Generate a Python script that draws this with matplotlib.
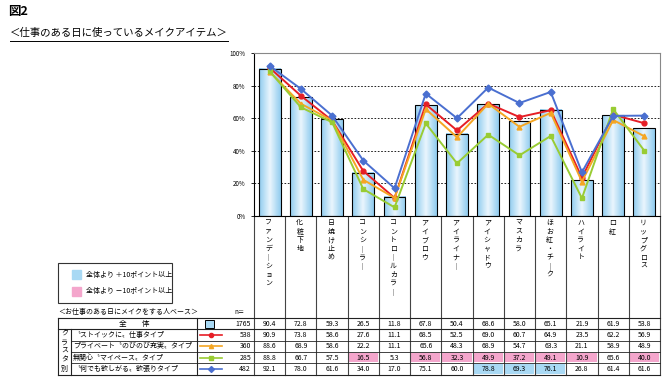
import numpy as np
import matplotlib.pyplot as plt
from matplotlib.colors import LinearSegmentedColormap
from matplotlib.patches import Rectangle

plt.rcParams['font.family'] = ['Noto Sans CJK JP', 'DejaVu Sans']

# data
items = ['ファンデーション', '化粧下地', '日焼け止め', 'コンシーラー', 'コントロールカラー',
         'アイブロウ', 'アイライナー', 'アイシャドウ', 'マスカラ', 'ほお紅・チーク',
         'ハイライト', '口紅', 'リップグロス']
total_n = 1765
total = [90.4, 72.8, 59.3, 26.5, 11.8, 67.8, 50.4, 68.6, 58.0, 65.1, 21.9, 61.9, 53.8]
groups = ['〝ストイックに〟仕事タイプ', 'プライベート〝のびのび充実〟タイプ',
          '無関心〝マイペース〟タイプ', '〝何でも欲しがる〟欲張りタイプ']
group_n = [538, 360, 285, 482]
stoic = [90.9, 73.8, 58.6, 27.6, 11.1, 68.5, 52.5, 69.0, 60.7, 64.9, 23.5, 62.2, 56.9]
private = [88.6, 68.9, 58.6, 22.2, 11.1, 65.6, 48.3, 68.9, 54.7, 63.3, 21.1, 58.9, 48.9]
mypace = [88.8, 66.7, 57.5, 16.5, 5.3, 56.8, 32.3, 49.9, 37.2, 49.1, 10.9, 65.6, 40.0]
greedy = [92.1, 78.0, 61.6, 34.0, 17.0, 75.1, 60.0, 78.8, 69.3, 76.1, 26.8, 61.4, 61.6]
group_vals = [stoic, private, mypace, greedy]
group_colors = ['#e61e26', '#f5a623', '#99cc33', '#4a6fd0']
group_markers = ['o', '^', 's', 'D']
up_color = '#a9d9f4'
down_color = '#f4a6cc'

W, H = 671, 384
fig = plt.figure(figsize=(W / 100, H / 100), dpi=100)

# pixel layout
PL, PR, PT, PB = 254, 660, 53, 216
colw = (PR - PL) / len(items)
TT, rh = 318, 11.3
TB = TT + 5 * rh

lay = fig.add_axes([0, 0, 1, 1])
lay.set_xlim(0, W)
lay.set_ylim(H, 0)
lay.axis('off')

ax = fig.add_axes([PL / W, 1 - PB / H, (PR - PL) / W, (PB - PT) / H])
x = np.arange(len(items))
cmap = LinearSegmentedColormap.from_list('bar', ['#8fcbef', '#eaf6fd', '#8fcbef'])
grad = np.linspace(0, 1, 64).reshape(1, -1)
bars = ax.bar(x, total, width=0.7, facecolor='none', edgecolor='black', lw=0.8, zorder=3)
for b in bars:
    ax.imshow(grad, cmap=cmap, aspect='auto', zorder=2,
              extent=[b.get_x(), b.get_x() + b.get_width(), 0, b.get_height()])

for vals, c, m in zip(group_vals, group_colors, group_markers):
    ax.plot(x, vals, color=c, marker=m, ms=3.5, lw=1.4, zorder=4)

ax.set_xlim(-0.5, len(items) - 0.5)
ax.set_ylim(0, 100)
ax.set_yticks(range(0, 101, 20))
ax.set_yticklabels([f'{v}%' for v in range(0, 101, 20)], fontsize=4.5)
ax.set_xticks([])
ax.tick_params(axis='y', length=2, width=0.6, pad=4)
for v in range(20, 100, 20):
    ax.axhline(v, color='black', lw=0.6, ls=(0, (2, 2)), zorder=1)
for s in ['top', 'right']:
    ax.spines[s].set_color('#888888')
    ax.spines[s].set_linewidth(0.8)
for s in ['left', 'bottom']:
    ax.spines[s].set_color('black')
    ax.spines[s].set_linewidth(0.8)

# title
lay.text(8, 12, '図2', fontsize=9, fontweight='bold', va='center')
lay.text(10, 33, '＜仕事のある日に使っているメイクアイテム＞', fontsize=7.5, va='center')
lay.plot([10, 228], [41, 41], color='black', lw=0.7)

# category labels (vertical)
for i, name in enumerate(items):
    cx = PL + (i + 0.5) * colw - 1
    for k, ch in enumerate(name):
        ch = '｜' if ch == 'ー' else ch
        lay.text(cx, 223 + k * 8.6, ch, ha='center', va='center', fontsize=5)

# highlight legend
lay.add_patch(Rectangle((58, 263), 114, 40, fill=False, edgecolor='#333333', lw=0.8))
lay.add_patch(Rectangle((72, 270), 9, 9, color=up_color))
lay.add_patch(Rectangle((72, 287), 9, 9, color=down_color))
lay.text(86, 274.5, '全体より ＋10ポイント以上', fontsize=5, va='center')
lay.text(86, 291.5, '全体より －10ポイント以上', fontsize=5, va='center')

lay.text(58, 312, '＜お仕事のある日にメイクをする人ベース＞', fontsize=5, va='center')
lay.text(234, 312, 'n＝', fontsize=4.5, va='center')

# highlighted cells
for r, vals in enumerate(group_vals):
    y0 = TT + (r + 1) * rh
    for j, v in enumerate(vals):
        d = v - total[j]
        if abs(d) >= 10:
            lay.add_patch(Rectangle((PL + j * colw + 1, y0 + 1), colw - 2, rh - 2,
                                    color=up_color if d > 0 else down_color, lw=0))

# table lines
lc = '#222222'
for k in range(len(items) + 1):
    xk = PL + k * colw
    lay.plot([xk, xk], [PB, TB], color='#444444', lw=0.8)
lay.plot([58, PR], [TT, TT], color=lc, lw=0.8)
lay.plot([58, PR], [TT + rh, TT + rh], color=lc, lw=0.8)
for r in range(2, 5):
    lay.plot([71, PR], [TT + r * rh] * 2, color=lc, lw=0.6)
lay.plot([58, PR], [TB, TB], color=lc, lw=0.8)
lay.plot([58, 58], [TT, TB], color=lc, lw=0.8)
lay.plot([71, 71], [TT + rh, TB], color=lc, lw=0.8)
lay.plot([197, 197], [TT, TB], color=lc, lw=0.8)

# overall row
yc = TT + rh / 2
lay.text(134, yc, '全　　体', fontsize=5.5, ha='center', va='center')
lay.add_patch(Rectangle((205, yc - 4), 9, 8, facecolor=up_color, edgecolor='black', lw=0.7))
lay.text(251, yc, str(total_n), fontsize=5, ha='right', va='center')
for j, v in enumerate(total):
    lay.text(PL + (j + 0.5) * colw, yc, f'{v:.1f}', fontsize=5, ha='center', va='center')

# cluster rows
for k, ch in enumerate('クラスタ別'):
    lay.text(64.5, TT + rh + 4.5 + k * 8.7, ch, fontsize=5, ha='center', va='center')
for r, (name, n, vals, c, m) in enumerate(zip(groups, group_n, group_vals,
                                               group_colors, group_markers)):
    yc = TT + (r + 1.5) * rh
    lay.text(73, yc, name, fontsize=5, va='center')
    lay.plot([200, 222], [yc, yc], color=c, lw=1.2)
    lay.plot([211], [yc], color=c, marker=m, ms=3)
    lay.text(251, yc, str(n), fontsize=5, ha='right', va='center')
    for j, v in enumerate(vals):
        lay.text(PL + (j + 0.5) * colw, yc, f'{v:.1f}', fontsize=5, ha='center', va='center')

fig.savefig('out.png', dpi=100)
